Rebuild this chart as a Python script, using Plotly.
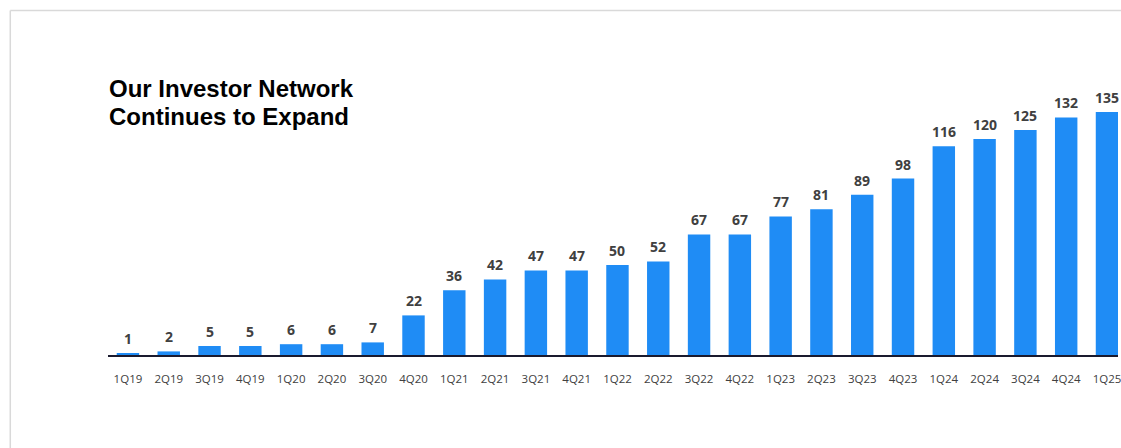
import plotly.graph_objects as go

quarters = ["1Q19", "2Q19", "3Q19", "4Q19", "1Q20", "2Q20", "3Q20", "4Q20",
            "1Q21", "2Q21", "3Q21", "4Q21", "1Q22", "2Q22", "3Q22", "4Q22",
            "1Q23", "2Q23", "3Q23", "4Q23", "1Q24", "2Q24", "3Q24", "4Q24", "1Q25"]
investors = [1, 2, 5, 5, 6, 6, 7, 22, 36, 42, 47, 47, 50, 52, 67, 67,
             77, 81, 89, 98, 116, 120, 125, 132, 135]
title_lines = ["Our Investor Network", "Continues to Expand"]

W, H = 1121, 448
BASE = 355  # baseline y in window pixels
ML, MR, MT = 108, 0, 0
MB = H - BASE
pw, ph = W - ML - MR, H - MT - MB

def px_x(p):
    return (p - ML) / pw

def px_y(p):
    return (H - MB - p) / ph

fig = go.Figure()
fig.add_trace(go.Bar(
    x=list(range(len(quarters))), y=investors,
    marker=dict(color="#1F8CF5", line=dict(width=0)),
    width=0.55, hoverinfo="skip",
))

for i, v in enumerate(investors):
    fig.add_annotation(x=i, y=v, text=f"<b>{v}</b>", showarrow=False,
                       yanchor="bottom", yshift=3,
                       font=dict(family="Open Sans", size=14, color="#404040"))

for line, yc in zip(title_lines, [88, 116]):
    fig.add_annotation(xref="paper", yref="paper", x=px_x(107), y=px_y(yc),
                       xanchor="left", yanchor="middle", align="left",
                       text=f"<b>{line}</b>", showarrow=False,
                       font=dict(family="Liberation Sans", size=24, color="#000000"))

# light frame lines (top and left)
fig.add_shape(type="line", xref="paper", yref="paper",
              x0=px_x(10), x1=px_x(1130), y0=px_y(10.5), y1=px_y(10.5),
              line=dict(color="#D9D9D9", width=1.5))
fig.add_shape(type="line", xref="paper", yref="paper",
              x0=px_x(10), x1=px_x(10), y0=px_y(10.5), y1=px_y(460),
              line=dict(color="#D9D9D9", width=1.5))

fig.update_xaxes(range=[-0.489, 24.27], tickmode="array",
                 tickvals=list(range(len(quarters))), ticktext=quarters,
                 showgrid=False, zeroline=False, showline=True,
                 linecolor="#1A1A2E", linewidth=2, ticks="",
                 tickfont=dict(family="Open Sans", size=11.5, color="#404040"),
                 ticklabelstandoff=12, ticklabeloverflow="allow", fixedrange=True)
fig.update_yaxes(range=[0, ph / 1.8], visible=False, showgrid=False,
                 zeroline=False, fixedrange=True)

fig.update_layout(width=W, height=H, margin=dict(l=ML, r=MR, t=MT, b=MB),
                  paper_bgcolor="white", plot_bgcolor="white",
                  showlegend=False, bargap=0.45)

fig.write_html("out.html", config={"displayModeBar": False},
               post_script="document.body.style.margin='0';document.body.style.overflow='hidden';")
